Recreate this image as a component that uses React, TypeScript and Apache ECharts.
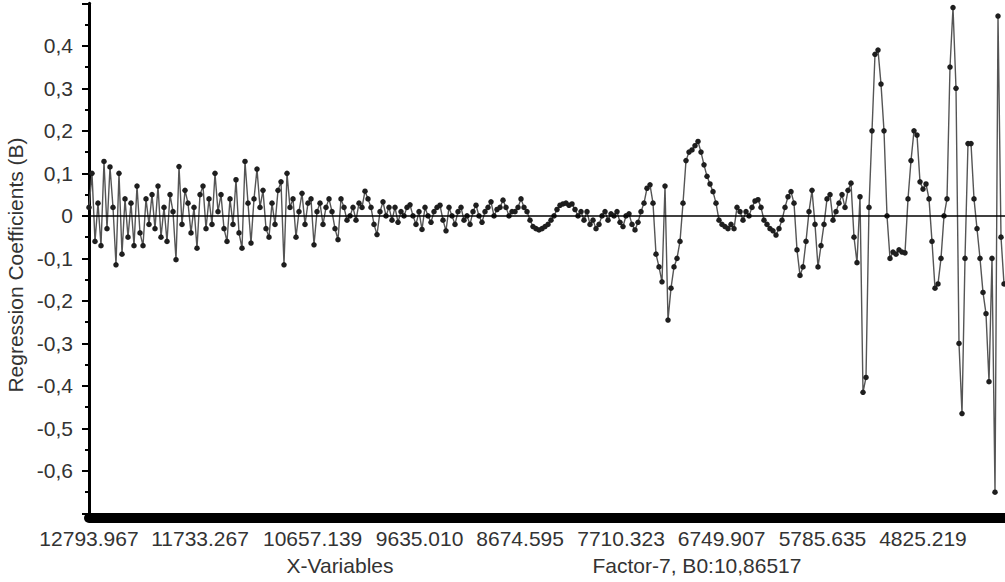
import React, { useEffect, useRef } from "react";
import * as echarts from "echarts";

// Wavenumber of the first X-variable and spacing between the plotted variables
const W_FIRST = 12793.967;
const W_STEP = 28.665;
const X_LEFT = 12793.967;
const X_RIGHT = 4041.6;

// x-axis tick labels (wavenumbers)
const TICK_WN = [12793.967, 11733.267, 10657.139, 9635.01, 8674.595, 7710.323, 6749.907, 5785.635, 4825.219];

// regression coefficients (B), Factor-7
const SEG_A = [
  0.02, 0.10, -0.06, 0.03, -0.07, 0.128, -0.03, 0.115, 0.02, -0.115,
  0.10, -0.09, 0.04, -0.05, 0.03, -0.07, 0.07, -0.04, -0.07, 0.04,
  -0.02, 0.05, -0.03, 0.07, -0.05, 0.02, -0.06, 0.05, 0.01, -0.103,
  0.116, -0.02, 0.06, 0.03, -0.04, 0.02, -0.076, 0.05, 0.07, -0.03,
  0.04, -0.02, 0.10, 0.01, 0.05, -0.03, -0.06, 0.04, -0.02, 0.085,
  -0.04, -0.076, 0.128, 0.03, -0.064, 0.04, 0.11, 0.02,
];
const SEG_B = [
  0.06, -0.03, -0.05, 0.03, -0.02, 0.06, 0.08, -0.115, 0.10, 0.02,
  0.04, -0.05, 0.01, 0.053, -0.02, 0.03, 0.04, -0.068, 0.01, 0.03,
  -0.02, 0.02, 0.04, 0.01, -0.03, -0.056, 0.04, 0.02, -0.01, 0.00,
  0.02, -0.01, 0.03, 0.02, 0.058, 0.04, 0.02, -0.02, -0.044, 0.01,
];
const SEG_C = [
  0.033, 0.00, 0.02, -0.01, 0.02, -0.015, 0.01, 0.00, 0.02, 0.026,
  0.00, -0.02, 0.01, -0.032, 0.02, 0.00, -0.015, 0.01, 0.02, 0.025,
  -0.01, -0.035, 0.02, 0.00, -0.02, 0.01, 0.02, -0.01, 0.00, -0.02,
  0.01, 0.025, 0.00, -0.015, 0.01, 0.02, 0.033, 0.00, 0.015, 0.02,
  0.037, 0.02, 0.00, 0.01, 0.01, 0.02, 0.04, 0.02, 0.01, -0.01,
  -0.025, -0.03, -0.033, -0.03, -0.025, -0.02, -0.01, 0.00, 0.015, 0.025,
  0.028, 0.03, 0.025, 0.028, 0.015, 0.00, 0.01, -0.01, 0.01, -0.02,
  -0.01, -0.03, -0.02, 0.00, 0.01, -0.01, 0.005, 0.00, 0.01, -0.015,
  -0.025, 0.00, 0.005, -0.02, -0.033, -0.015, 0.01,
];
const SEG_D = [
  0.03, 0.065, 0.073, 0.03, -0.09, -0.12, -0.155, 0.07, -0.245, -0.17,
  -0.12, -0.10, -0.06, 0.03, 0.13, 0.15, 0.155, 0.165, 0.175, 0.15,
  0.12, 0.093, 0.075, 0.057, 0.03, -0.01, -0.02, -0.025, -0.03, -0.02,
  -0.03, 0.02, 0.01, -0.01, 0.01, 0.00, 0.02, 0.035, 0.038, 0.02,
  -0.01, -0.02, -0.03, -0.035, -0.045, -0.03, -0.01, 0.02, 0.045, 0.057,
  0.03, -0.08, -0.14,
];
const SEG_E = [
  -0.12, -0.06, 0.01, 0.06, -0.02, -0.12, -0.07, -0.02, 0.04, 0.05,
  -0.01, 0.01, 0.03, 0.05, 0.02, 0.06, 0.077, -0.05, -0.11, 0.045,
  -0.415, -0.38, 0.02, 0.20, 0.38, 0.39, 0.31, 0.20, 0.00, -0.10,
  -0.085, -0.09, -0.08, -0.085,
];
const SEG_F = [
  -0.087, 0.04, 0.13, 0.20, 0.19, 0.08, 0.063, 0.075, 0.04, -0.06,
  -0.17, -0.16, -0.10, 0.00, 0.04, 0.35, 0.49, 0.30, -0.30, -0.465,
  -0.10, 0.17, 0.17, 0.04, -0.03, -0.10, -0.18, -0.23, -0.39, -0.10,
  -0.65, 0.47, -0.05, -0.16,
];

const VALUES = [...SEG_A, ...SEG_B, ...SEG_C, ...SEG_D, ...SEG_E, ...SEG_F];

const FONT = '"Liberation Sans", Arial, sans-serif';

export default function App() {
  const ref = useRef<HTMLDivElement>(null);

  useEffect(() => {
    if (!ref.current) return;
    const chart = echarts.init(ref.current, undefined, { renderer: "svg" });
    const data = VALUES.map((v, i) => [W_FIRST - i * W_STEP, v]);

    chart.setOption({
      animation: false,
      backgroundColor: "#fff",
      grid: { left: 89, right: 0, top: 3.3, bottom: 68.5, outerBoundsMode: "none" },
      xAxis: {
        type: "value",
        inverse: true,
        min: X_RIGHT,
        max: X_LEFT,
        offset: 4.5,
        axisLine: { show: true, onZero: false, lineStyle: { color: "#000", width: 10 } },
        axisTick: { show: false },
        splitLine: { show: false },
        axisLabel: {
          customValues: TICK_WN,
          formatter: (v: number) => v.toFixed(3),
          color: "#333",
          fontFamily: FONT,
          fontSize: 21,
          margin: 10,
          hideOverlap: false,
        },
      },
      yAxis: {
        type: "value",
        min: -0.7,
        max: 0.5,
        interval: 0.1,
        axisLine: { show: true, onZero: false, lineStyle: { color: "#000", width: 3 } },
        axisTick: { show: true, length: 7, lineStyle: { color: "#000", width: 2 } },
        minorTick: { show: true, splitNumber: 2, length: 4, lineStyle: { color: "#000", width: 2 } },
        splitLine: { show: false },
        axisLabel: {
          color: "#333",
          fontFamily: FONT,
          fontSize: 21,
          margin: 16,
          formatter: (v: number) => {
            const r = Math.round(v * 10) / 10;
            if (r >= 0.5 || r <= -0.7) return "";
            if (r === 0) return "0";
            return r.toFixed(1).replace(".", ",");
          },
        },
      },
      series: [
        {
          type: "line",
          data,
          showAllSymbol: true,
          symbol: "circle",
          symbolSize: 5.5,
          lineStyle: { color: "#555", width: 1.4 },
          itemStyle: { color: "#1e1e1e" },
          markLine: {
            silent: true,
            symbol: ["none", "none"],
            label: { show: false },
            lineStyle: { color: "#000", width: 1.5, type: "solid" },
            data: [{ yAxis: 0 }],
          },
        },
      ],
      graphic: [
        {
          type: "text",
          x: 15,
          y: 265,
          rotation: Math.PI / 2,
          style: {
            text: "Regression Coefficients (B)",
            fill: "#333",
            fontFamily: FONT,
            fontSize: 21,
            align: "center",
            verticalAlign: "middle",
          },
        },
        {
          type: "text",
          x: 340,
          y: 565,
          style: {
            text: "X-Variables",
            fill: "#333",
            fontFamily: FONT,
            fontSize: 21,
            align: "center",
            verticalAlign: "middle",
          },
        },
        {
          type: "text",
          x: 697,
          y: 565,
          style: {
            text: "Factor-7, B0:10,86517",
            fill: "#333",
            fontFamily: FONT,
            fontSize: 21,
            align: "center",
            verticalAlign: "middle",
          },
        },
      ],
    });

    return () => chart.dispose();
  }, []);

  return (
    <div
      ref={ref}
      style={{ position: "fixed", left: 0, top: 0, width: 1005, height: 582 }}
    />
  );
}
